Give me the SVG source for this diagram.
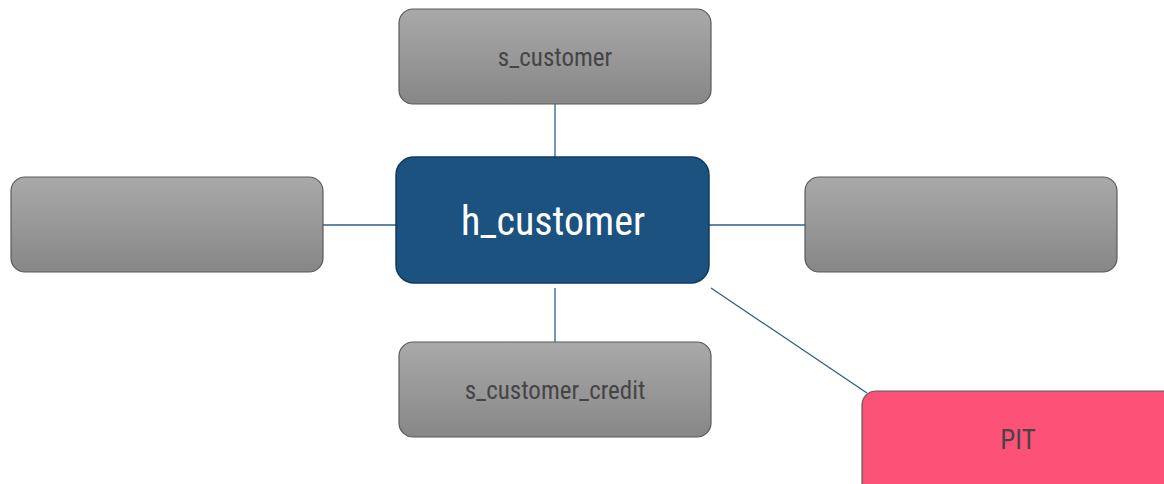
<svg xmlns="http://www.w3.org/2000/svg" width="1164" height="484" viewBox="0 0 1164 484">
<style>
.gray{fill:url(#g);stroke:#5a5a5a;stroke-width:1.2}
.lbl{font-family:"Liberation Sans Narrow","Roboto Condensed","Liberation Sans",sans-serif;fill:#454545;font-size:25px;text-anchor:middle}
.hub{fill:#1c5280;stroke:#0f3a5e;stroke-width:1.5}
.conn line{stroke:#2d5f8c;stroke-width:1.3}
</style>
<defs>
<linearGradient id="g" x1="0" y1="0" x2="0" y2="1">
<stop offset="0" stop-color="#a9a9a9"/>
<stop offset="1" stop-color="#878787"/>
</linearGradient>
</defs>
<g class="conn" id="connectors">
<line x1="555" y1="104" x2="555" y2="157"/>
<line x1="323" y1="225" x2="396" y2="225"/>
<line x1="709" y1="225" x2="805" y2="225"/>
<line x1="555" y1="288" x2="555" y2="342"/>
<line x1="711" y1="288" x2="867" y2="393"/>
</g>
<g id="s_customer">
<rect class="gray" x="399" y="9" width="312" height="95" rx="14"/>
<text class="lbl" x="555" y="66">s_customer</text>
</g>
<g id="h_customer">
<rect class="hub" x="396" y="157" width="313" height="126" rx="18"/>
<text x="553" y="235" font-family="'Liberation Sans Narrow','Roboto Condensed','Liberation Sans',sans-serif" font-size="40" fill="#ffffff" text-anchor="middle">h_customer</text>
</g>
<g id="left_node">
<rect class="gray" x="11" y="177" width="312" height="95" rx="14"/>
</g>
<g id="right_node">
<rect class="gray" x="805" y="177" width="312" height="95" rx="14"/>
</g>
<g id="s_customer_credit">
<rect class="gray" x="399" y="342" width="312" height="95" rx="14"/>
<text class="lbl" x="555" y="399">s_customer_credit</text>
</g>
<g id="pit">
<rect x="862" y="391" width="320" height="110" rx="14" fill="#fd5277" stroke="#5a5a5a" stroke-width="1.2"/>
<text x="1018" y="449" font-family="'Liberation Sans Narrow','Roboto Condensed','Liberation Sans',sans-serif" font-size="27" fill="#454545" text-anchor="middle">PIT</text>
</g>
</svg>
